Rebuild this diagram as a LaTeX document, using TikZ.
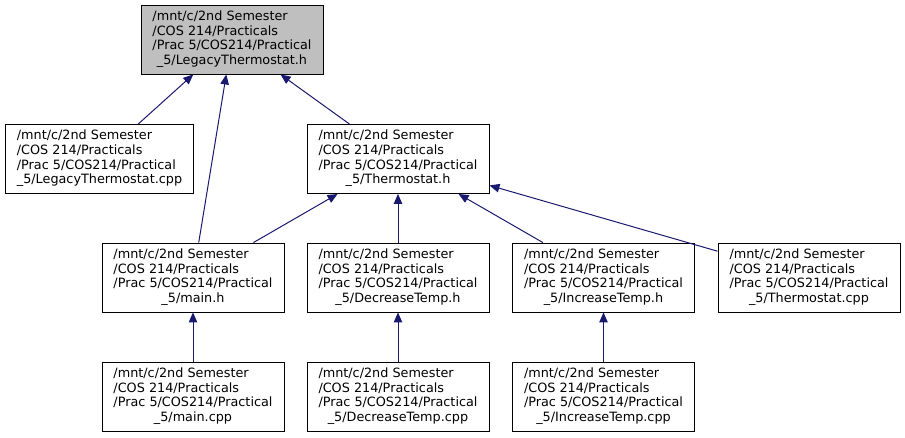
\documentclass[tikz,border=0pt]{standalone}
\usepackage{fontspec}
\setmainfont{DejaVu Sans}
\usetikzlibrary{arrows.meta}
\definecolor{edgeblue}{RGB}{25,25,112}
\definecolor{rootgray}{RGB}{191,191,191}
\newcommand{\srcpath}[1]{%
  \begin{tabular}{@{}l@{}}/mnt/c/2nd Semester\\/COS 214/Practicals\\/Prac 5/COS214/Practical\\\multicolumn{1}{@{}c@{}}{\_5/#1}\end{tabular}}

\begin{document}
\begin{tikzpicture}[x=1pt, y=-1pt,
  file/.style={draw=black, line width=0.9pt, fill=white, inner xsep=11.5pt, inner ysep=0pt,
    minimum height=69pt, font=\fontsize{12.8}{14.7}\selectfont},
  incl/.style={edgeblue, line width=1pt, {Triangle[length=10pt,width=8.5pt]}-}]
  \useasboundingbox (0,0) rectangle (905,437);
  % files
  \node[file, fill=rootgray] (legh) at (232,39.5) {\srcpath{LegacyThermostat.h}};
  \node[file] (legcpp) at (99.5,159) {\srcpath{LegacyThermostat.cpp}};
  \node[file] (thermh) at (398,159) {\srcpath{Thermostat.h}};
  \node[file] (mainh) at (193,277.5) {\srcpath{main.h}};
  \node[file] (dech) at (398,277.5) {\srcpath{DecreaseTemp.h}};
  \node[file] (inch) at (603.5,277.5) {\srcpath{IncreaseTemp.h}};
  \node[file] (thermcpp) at (809,277.5) {\srcpath{Thermostat.cpp}};
  \node[file] (maincpp) at (193,396.5) {\srcpath{main.cpp}};
  \node[file] (deccpp) at (398,396.5) {\srcpath{DecreaseTemp.cpp}};
  \node[file] (inccpp) at (603.5,396.5) {\srcpath{IncreaseTemp.cpp}};
  % includes
  \foreach \a/\b in {legh/legcpp, legh/mainh, legh/thermh, thermh/mainh, thermh/dech,
    thermh/inch, thermh/thermcpp, mainh/maincpp, dech/deccpp, inch/inccpp}
    \draw[incl] (\a) -- (\b);
\end{tikzpicture}
\end{document}
